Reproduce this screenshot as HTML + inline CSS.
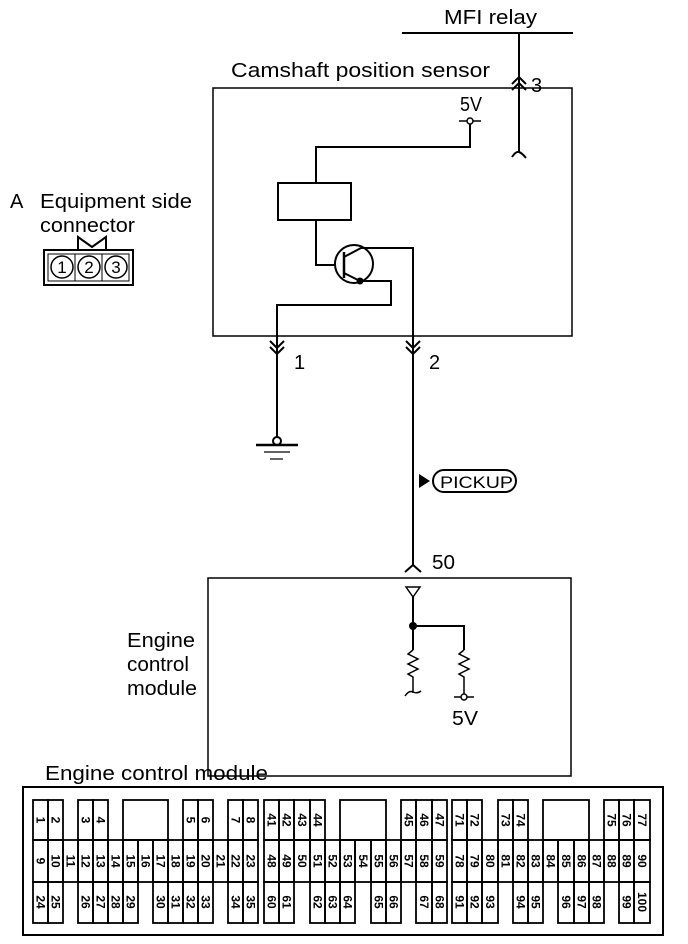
<!DOCTYPE html>
<html><head><style>
body{margin:0;background:#fff;}
svg{display:block;font-family:"Liberation Sans",Arial,sans-serif;}
.c rect{fill:none;stroke:#000;stroke-width:1.8}
.c text{font-size:12px;font-weight:bold;text-anchor:middle;fill:#000}
</style></head><body>
<svg width="688" height="944" viewBox="0 0 688 944" xmlns="http://www.w3.org/2000/svg">
<g fill="none" stroke="#000" stroke-width="2">
<line x1="402" y1="33" x2="573" y2="33"/>
<line x1="519" y1="33" x2="519" y2="152"/>
<path d="M512 84 L519 77 L526 84 M512 90 L519 83 L526 90"/>
<path d="M512 157 Q516 151 519 152 Q522 153 526 158"/>
<rect x="213" y="88" width="359" height="248" stroke-width="1.5"/>
<line x1="459" y1="121" x2="481" y2="121" stroke-width="1.5"/>
<circle cx="470" cy="121" r="3" fill="#fff" stroke-width="1.5"/>
<polyline points="470,124 470,147 316,147 316,183"/>
<rect x="278" y="183" width="73" height="37"/>
<polyline points="316,220 316,265 336,265"/>
<circle cx="354" cy="264" r="19"/>
<line x1="344" y1="252" x2="344" y2="278" stroke-width="2.5"/>
<polyline points="344,257 361,248 413,248 413,565"/>
<polyline points="344,273 360,281 391,281 391,305 277,305 277,440"/>
<circle cx="360" cy="281" r="2.5" fill="#000"/>
<path d="M270 341 L277 348 L284 341 M270 347 L277 354 L284 347"/>
<path d="M406 341 L413 348 L420 341 M406 347 L413 354 L420 347"/>
<circle cx="277" cy="441" r="4" fill="#fff"/>
<line x1="256" y1="445" x2="298" y2="445" stroke-width="2.5"/>
<line x1="264" y1="452" x2="290" y2="452" stroke-width="1.2"/>
<line x1="270" y1="459" x2="283" y2="459" stroke-width="1.2"/>
<rect x="433" y="470" width="83" height="22" rx="11" stroke-width="2"/>
<path d="M405 572 L413 565 L421 572"/>
<rect x="208" y="578" width="363" height="198" stroke-width="1.5"/>
<path d="M406 587 L420 587 L413 597 Z" stroke-width="1.5"/>
<polyline points="413,597 413,650"/>
<polyline points="413,626 464,626 464,650"/>
<path d="M413 650 L408 654 L418 659 L408 664 L418 669 L408 674 L413 677 L413 693" stroke-width="1.5"/>
<path d="M405 696 Q409 690 413 692 Q417 694 421 691" stroke-width="1.5"/>
<path d="M464 650 L459 654 L469 659 L459 664 L469 669 L459 674 L464 677 L464 694" stroke-width="1.5"/>
<line x1="454" y1="697" x2="474" y2="697" stroke-width="1.5"/>
<circle cx="464" cy="697" r="3" fill="#fff" stroke-width="1.5"/>
<rect x="44" y="250" width="89" height="35" stroke-width="2"/>
<rect x="48" y="254" width="81" height="27" stroke-width="1"/>
<line x1="75" y1="254" x2="75" y2="281" stroke-width="1"/>
<line x1="102" y1="254" x2="102" y2="281" stroke-width="1"/>
<path d="M78 250 L78 237 L92 247 L106 237 L106 250" stroke-width="2"/>
<circle cx="62" cy="267" r="11" stroke-width="1.5"/>
<circle cx="89" cy="267" r="11" stroke-width="1.5"/>
<circle cx="116" cy="267" r="11" stroke-width="1.5"/>
</g>
<circle cx="413" cy="626" r="4" fill="#000"/>
<path d="M419 474 L430 481 L419 488 Z" fill="#000"/>
<g font-size="20" fill="#000">
<text x="444" y="24" textLength="93" lengthAdjust="spacingAndGlyphs">MFI relay</text>
<text x="231" y="77" textLength="259" lengthAdjust="spacingAndGlyphs">Camshaft position sensor</text>
<text x="531" y="92">3</text>
<text x="460" y="111" textLength="22" lengthAdjust="spacingAndGlyphs">5V</text>
<text x="294" y="369">1</text>
<text x="429" y="369">2</text>
<text x="440" y="488" font-size="17" textLength="73" lengthAdjust="spacingAndGlyphs">PICKUP</text>
<text x="432" y="569" textLength="23" lengthAdjust="spacingAndGlyphs">50</text>
<text x="452" y="725" textLength="26" lengthAdjust="spacingAndGlyphs">5V</text>
<text x="127" y="647" textLength="68" lengthAdjust="spacingAndGlyphs">Engine</text>
<text x="127" y="671" textLength="62" lengthAdjust="spacingAndGlyphs">control</text>
<text x="127" y="695" textLength="70" lengthAdjust="spacingAndGlyphs">module</text>
<text x="10" y="208">A</text>
<text x="40" y="208" textLength="152" lengthAdjust="spacingAndGlyphs">Equipment side</text>
<text x="40" y="232" textLength="95" lengthAdjust="spacingAndGlyphs">connector</text>
<text x="45" y="780" textLength="223" lengthAdjust="spacingAndGlyphs">Engine control module</text>
</g>
<g font-size="17" fill="#000" text-anchor="middle">
<text x="62" y="273">1</text><text x="89" y="273">2</text><text x="116" y="273">3</text>
</g>
<rect x="23" y="787" width="640" height="148" fill="none" stroke="#000" stroke-width="2"/>
<g class="c">
<rect x="33" y="800" width="15" height="40"/><text transform="translate(36.5,820) rotate(90)">1</text>
<rect x="48" y="800" width="15" height="40"/><text transform="translate(51.5,820) rotate(90)">2</text>
<rect x="78" y="800" width="15" height="40"/><text transform="translate(81.5,820) rotate(90)">3</text>
<rect x="93" y="800" width="15" height="40"/><text transform="translate(96.5,820) rotate(90)">4</text>
<rect x="123" y="800" width="45" height="40"/>
<rect x="183" y="800" width="15" height="40"/><text transform="translate(186.5,820) rotate(90)">5</text>
<rect x="198" y="800" width="15" height="40"/><text transform="translate(201.5,820) rotate(90)">6</text>
<rect x="228" y="800" width="15" height="40"/><text transform="translate(231.5,820) rotate(90)">7</text>
<rect x="243" y="800" width="15" height="40"/><text transform="translate(246.5,820) rotate(90)">8</text>
<rect x="33" y="840" width="15" height="42"/><text transform="translate(36.5,861) rotate(90)">9</text>
<rect x="48" y="840" width="15" height="42"/><text transform="translate(51.5,861) rotate(90)">10</text>
<rect x="63" y="840" width="15" height="42"/><text transform="translate(66.5,861) rotate(90)">11</text>
<rect x="78" y="840" width="15" height="42"/><text transform="translate(81.5,861) rotate(90)">12</text>
<rect x="93" y="840" width="15" height="42"/><text transform="translate(96.5,861) rotate(90)">13</text>
<rect x="108" y="840" width="15" height="42"/><text transform="translate(111.5,861) rotate(90)">14</text>
<rect x="123" y="840" width="15" height="42"/><text transform="translate(126.5,861) rotate(90)">15</text>
<rect x="138" y="840" width="15" height="42"/><text transform="translate(141.5,861) rotate(90)">16</text>
<rect x="153" y="840" width="15" height="42"/><text transform="translate(156.5,861) rotate(90)">17</text>
<rect x="168" y="840" width="15" height="42"/><text transform="translate(171.5,861) rotate(90)">18</text>
<rect x="183" y="840" width="15" height="42"/><text transform="translate(186.5,861) rotate(90)">19</text>
<rect x="198" y="840" width="15" height="42"/><text transform="translate(201.5,861) rotate(90)">20</text>
<rect x="213" y="840" width="15" height="42"/><text transform="translate(216.5,861) rotate(90)">21</text>
<rect x="228" y="840" width="15" height="42"/><text transform="translate(231.5,861) rotate(90)">22</text>
<rect x="243" y="840" width="15" height="42"/><text transform="translate(246.5,861) rotate(90)">23</text>
<rect x="33" y="882" width="15" height="41"/><text transform="translate(36.5,902) rotate(90)">24</text>
<rect x="48" y="882" width="15" height="41"/><text transform="translate(51.5,902) rotate(90)">25</text>
<rect x="78" y="882" width="15" height="41"/><text transform="translate(81.5,902) rotate(90)">26</text>
<rect x="93" y="882" width="15" height="41"/><text transform="translate(96.5,902) rotate(90)">27</text>
<rect x="108" y="882" width="15" height="41"/><text transform="translate(111.5,902) rotate(90)">28</text>
<rect x="123" y="882" width="15" height="41"/><text transform="translate(126.5,902) rotate(90)">29</text>
<rect x="153" y="882" width="15" height="41"/><text transform="translate(156.5,902) rotate(90)">30</text>
<rect x="168" y="882" width="15" height="41"/><text transform="translate(171.5,902) rotate(90)">31</text>
<rect x="183" y="882" width="15" height="41"/><text transform="translate(186.5,902) rotate(90)">32</text>
<rect x="198" y="882" width="15" height="41"/><text transform="translate(201.5,902) rotate(90)">33</text>
<rect x="228" y="882" width="15" height="41"/><text transform="translate(231.5,902) rotate(90)">34</text>
<rect x="243" y="882" width="15" height="41"/><text transform="translate(246.5,902) rotate(90)">35</text>
<rect x="264" y="800" width="15" height="40"/><text transform="translate(267.5,820) rotate(90)">41</text>
<rect x="279" y="800" width="15" height="40"/><text transform="translate(282.5,820) rotate(90)">42</text>
<rect x="294" y="800" width="16" height="40"/><text transform="translate(298,820) rotate(90)">43</text>
<rect x="310" y="800" width="15" height="40"/><text transform="translate(313.5,820) rotate(90)">44</text>
<rect x="340" y="800" width="46" height="40"/>
<rect x="401" y="800" width="15" height="40"/><text transform="translate(404.5,820) rotate(90)">45</text>
<rect x="416" y="800" width="16" height="40"/><text transform="translate(420,820) rotate(90)">46</text>
<rect x="432" y="800" width="15" height="40"/><text transform="translate(435.5,820) rotate(90)">47</text>
<rect x="264" y="840" width="15" height="42"/><text transform="translate(267.5,861) rotate(90)">48</text>
<rect x="279" y="840" width="15" height="42"/><text transform="translate(282.5,861) rotate(90)">49</text>
<rect x="294" y="840" width="16" height="42"/><text transform="translate(298,861) rotate(90)">50</text>
<rect x="310" y="840" width="15" height="42"/><text transform="translate(313.5,861) rotate(90)">51</text>
<rect x="325" y="840" width="15" height="42"/><text transform="translate(328.5,861) rotate(90)">52</text>
<rect x="340" y="840" width="15" height="42"/><text transform="translate(343.5,861) rotate(90)">53</text>
<rect x="355" y="840" width="16" height="42"/><text transform="translate(359,861) rotate(90)">54</text>
<rect x="371" y="840" width="15" height="42"/><text transform="translate(374.5,861) rotate(90)">55</text>
<rect x="386" y="840" width="15" height="42"/><text transform="translate(389.5,861) rotate(90)">56</text>
<rect x="401" y="840" width="15" height="42"/><text transform="translate(404.5,861) rotate(90)">57</text>
<rect x="416" y="840" width="16" height="42"/><text transform="translate(420,861) rotate(90)">58</text>
<rect x="432" y="840" width="15" height="42"/><text transform="translate(435.5,861) rotate(90)">59</text>
<rect x="264" y="882" width="15" height="41"/><text transform="translate(267.5,902) rotate(90)">60</text>
<rect x="279" y="882" width="15" height="41"/><text transform="translate(282.5,902) rotate(90)">61</text>
<rect x="310" y="882" width="15" height="41"/><text transform="translate(313.5,902) rotate(90)">62</text>
<rect x="325" y="882" width="15" height="41"/><text transform="translate(328.5,902) rotate(90)">63</text>
<rect x="340" y="882" width="15" height="41"/><text transform="translate(343.5,902) rotate(90)">64</text>
<rect x="371" y="882" width="15" height="41"/><text transform="translate(374.5,902) rotate(90)">65</text>
<rect x="386" y="882" width="15" height="41"/><text transform="translate(389.5,902) rotate(90)">66</text>
<rect x="416" y="882" width="16" height="41"/><text transform="translate(420,902) rotate(90)">67</text>
<rect x="432" y="882" width="15" height="41"/><text transform="translate(435.5,902) rotate(90)">68</text>
<rect x="452" y="800" width="15" height="40"/><text transform="translate(455.5,820) rotate(90)">71</text>
<rect x="467" y="800" width="15" height="40"/><text transform="translate(470.5,820) rotate(90)">72</text>
<rect x="498" y="800" width="15" height="40"/><text transform="translate(501.5,820) rotate(90)">73</text>
<rect x="513" y="800" width="15" height="40"/><text transform="translate(516.5,820) rotate(90)">74</text>
<rect x="543" y="800" width="46" height="40"/>
<rect x="604" y="800" width="15" height="40"/><text transform="translate(607.5,820) rotate(90)">75</text>
<rect x="619" y="800" width="15" height="40"/><text transform="translate(622.5,820) rotate(90)">76</text>
<rect x="634" y="800" width="16" height="40"/><text transform="translate(638,820) rotate(90)">77</text>
<rect x="452" y="840" width="15" height="42"/><text transform="translate(455.5,861) rotate(90)">78</text>
<rect x="467" y="840" width="15" height="42"/><text transform="translate(470.5,861) rotate(90)">79</text>
<rect x="482" y="840" width="16" height="42"/><text transform="translate(486,861) rotate(90)">80</text>
<rect x="498" y="840" width="15" height="42"/><text transform="translate(501.5,861) rotate(90)">81</text>
<rect x="513" y="840" width="15" height="42"/><text transform="translate(516.5,861) rotate(90)">82</text>
<rect x="528" y="840" width="15" height="42"/><text transform="translate(531.5,861) rotate(90)">83</text>
<rect x="543" y="840" width="15" height="42"/><text transform="translate(546.5,861) rotate(90)">84</text>
<rect x="558" y="840" width="16" height="42"/><text transform="translate(562,861) rotate(90)">85</text>
<rect x="574" y="840" width="15" height="42"/><text transform="translate(577.5,861) rotate(90)">86</text>
<rect x="589" y="840" width="15" height="42"/><text transform="translate(592.5,861) rotate(90)">87</text>
<rect x="604" y="840" width="15" height="42"/><text transform="translate(607.5,861) rotate(90)">88</text>
<rect x="619" y="840" width="15" height="42"/><text transform="translate(622.5,861) rotate(90)">89</text>
<rect x="634" y="840" width="16" height="42"/><text transform="translate(638,861) rotate(90)">90</text>
<rect x="452" y="882" width="15" height="41"/><text transform="translate(455.5,902) rotate(90)">91</text>
<rect x="467" y="882" width="15" height="41"/><text transform="translate(470.5,902) rotate(90)">92</text>
<rect x="482" y="882" width="16" height="41"/><text transform="translate(486,902) rotate(90)">93</text>
<rect x="513" y="882" width="15" height="41"/><text transform="translate(516.5,902) rotate(90)">94</text>
<rect x="528" y="882" width="15" height="41"/><text transform="translate(531.5,902) rotate(90)">95</text>
<rect x="558" y="882" width="16" height="41"/><text transform="translate(562,902) rotate(90)">96</text>
<rect x="574" y="882" width="15" height="41"/><text transform="translate(577.5,902) rotate(90)">97</text>
<rect x="589" y="882" width="15" height="41"/><text transform="translate(592.5,902) rotate(90)">98</text>
<rect x="619" y="882" width="15" height="41"/><text transform="translate(622.5,902) rotate(90)">99</text>
<rect x="634" y="882" width="16" height="41"/><text transform="translate(638,902) rotate(90)">100</text>
</g>
</svg>
</body></html>
